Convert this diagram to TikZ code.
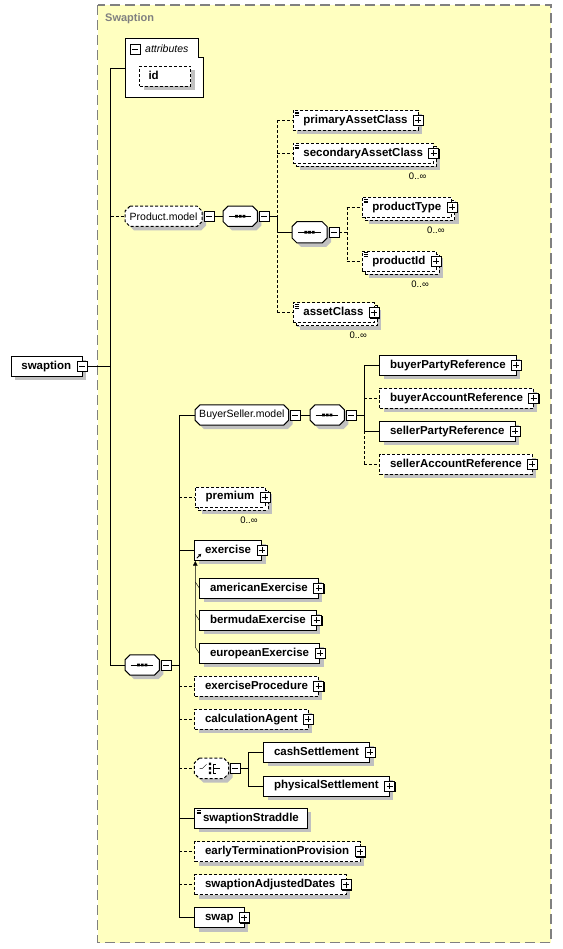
\documentclass[tikz,border=0pt]{standalone}
\usepackage{fontspec}
\setmainfont{Liberation Sans}
\usetikzlibrary{shadows,arrows.meta}

\definecolor{schemabg}{HTML}{FFFFC0}
\definecolor{shadowgray}{HTML}{C0C0C0}
\definecolor{framegray}{HTML}{808080}

\pgfdeclarelayer{bg}
\pgfsetlayers{bg,main}

\tikzset{
  elem/.style={draw, fill=white, anchor=west, font=\fontsize{11.5}{13}\selectfont\bfseries,
    inner xsep=10.5pt, inner ysep=0pt, minimum height=20pt, text height=9pt, text depth=2.5pt,
    drop shadow={fill=shadowgray, opacity=1, shadow xshift=4pt, shadow yshift=-4pt}},
  noplus/.style={inner xsep=8.5pt},
  opt/.style={dash pattern=on 3pt off 2pt},
  many/.style={drop shadow={fill=shadowgray, opacity=1, shadow xshift=7pt, shadow yshift=-7pt},
    copy shadow={fill=white, draw=black, shadow xshift=3pt, shadow yshift=-3pt}},
  doc/.style={path picture={
      \draw[solid, line width=0.8pt]
        ([xshift=2pt,yshift=-1.8pt]path picture bounding box.north west) -- ++(4.5pt,0pt)
        ([xshift=2pt,yshift=-3.6pt]path picture bounding box.north west) -- ++(4.5pt,0pt)
        ([xshift=2pt,yshift=-5.4pt]path picture bounding box.north west) -- ++(4.5pt,0pt);}},
  grp/.style={anchor=west, inner sep=0pt, minimum height=20pt, minimum width=34pt},
  model/.style={grp, font=\fontsize{10.5}{12}\selectfont},
  pmbox/.style={draw, fill=white, solid, minimum size=10pt, inner sep=0pt,
    drop shadow={fill=black, opacity=1, shadow xshift=1pt, shadow yshift=-1pt}},
  minusbox/.style={pmbox, path picture={
      \draw[solid] ([xshift=2pt]path picture bounding box.west) -- ([xshift=-2pt]path picture bounding box.east);}},
  plusbox/.style={pmbox, path picture={
      \draw[solid] ([xshift=2pt]path picture bounding box.west) -- ([xshift=-2pt]path picture bounding box.east)
        ([yshift=-2pt]path picture bounding box.north) -- ([yshift=2pt]path picture bounding box.south);}},
  mult/.style={font=\fontsize{9.5}{11}\selectfont, inner sep=0pt}
}

% octagon frame of a model group, drawn behind the node
\newcommand\grpframe[2][]{%
  \begin{pgfonlayer}{bg}
  \draw[draw=black, line width=1pt, fill=white, #1, drop shadow={fill=shadowgray, opacity=1, shadow xshift=4pt, shadow yshift=-4pt}]
    ([xshift=5pt]#2.north west) -- ([xshift=-5pt]#2.north east) -- ([yshift=-5pt]#2.north east)
    -- ([yshift=5pt]#2.south east) -- ([xshift=-5pt]#2.south east) -- ([xshift=5pt]#2.south west)
    -- ([yshift=5pt]#2.south west) -- ([yshift=-5pt]#2.north west) -- cycle;
  \end{pgfonlayer}}
% the sequence sign
\newcommand\seqicon[1]{%
  \begin{scope}[shift={(#1.center)}]
  \draw (-11.5,0) -- (11,0);
  \fill (-5.1,-1.4) rectangle (-2.3,1.4) (-1.4,-1.4) rectangle (1.4,1.4) (2.3,-1.4) rectangle (5.1,1.4);
  \end{scope}}

\begin{document}
\begin{tikzpicture}[x=1pt, y=-1pt, line width=1pt]
\useasboundingbox (0,0) rectangle (562,949);
\begin{pgfonlayer}{bg}
\draw[framegray, fill=schemabg, line width=1.3pt, dash pattern=on 10pt off 5pt] (97.5,5) rectangle (551,942.5);
\end{pgfonlayer}
\node[font=\fontsize{11}{13}\selectfont\bfseries, text=framegray, anchor=west, inner sep=0pt] (title) at (105,18.5) {Swaption};

% root element and attributes
\node[elem] (swaption) at (10.7,366) {swaption};
\node[minusbox] (swaption-m) at (swaption.east) {};

\draw[fill=white] (125,38) -- (198.3,38) -- (198.3,57.3) -- (202.7,57.3) -- (202.7,97) -- (125,97) -- cycle;
\node[minusbox] (attr-m) at (135,49) {};
\node[font=\fontsize{10.5}{12}\selectfont\itshape, anchor=west, inner sep=0pt] (attr) at (145,48.3) {attributes};
\node[elem, opt, text width=33pt, inner xsep=9pt] (id) at (139.3,76.3) {id};
\coordinate (attr-in) at (125,68);

% Product.model
\node[model, minimum width=76.7pt] (pmodel) at (125,216.3) {Product.model};
\grpframe[opt]{pmodel}
\node[minusbox, anchor=west] (pmodel-m) at ([xshift=1.5pt]pmodel.east) {};
\node[grp] (seq1) at (223,216.3) {};
\grpframe{seq1} \seqicon{seq1}
\node[minusbox, anchor=west] (seq1-m) at ([xshift=1.5pt]seq1.east) {};

\node[elem, opt, doc] (pac) at (292.7,120.3) {primaryAssetClass};
\node[elem, opt, doc, many] (sac) at (292.7,153.5) {secondaryAssetClass};
\node[grp, minimum width=34.7pt, minimum height=21pt] (seq2) at (292,232.3) {};
\grpframe{seq2} \seqicon{seq2}
\node[minusbox, anchor=west] (seq2-m) at ([xshift=1.5pt]seq2.east) {};
\node[elem, opt, doc, many] (pt) at (361.7,207.5) {productType};
\node[elem, opt, doc, many] (pid) at (361.7,261) {productId};
\node[elem, opt, doc, many] (ac) at (292.7,312.5) {assetClass};

% BuyerSeller.model
\node[model, minimum width=93.3pt] (bsmodel) at (195,415) {BuyerSeller.model};
\grpframe{bsmodel}
\node[minusbox, anchor=west] (bsmodel-m) at ([xshift=1.5pt]bsmodel.east) {};
\node[grp] (seq3) at (310,415) {};
\grpframe{seq3} \seqicon{seq3}
\node[minusbox, anchor=west] (seq3-m) at ([xshift=1.5pt]seq3.east) {};

\node[elem] (bpr) at (379.3,365.3) {buyerPartyReference};
\node[elem, opt] (bar) at (379.3,398.3) {buyerAccountReference};
\node[elem] (spr) at (379.3,431.3) {sellerPartyReference};
\node[elem, opt] (sar) at (379.3,464.3) {sellerAccountReference};

% main sequence
\node[grp] (seq0) at (125,665) {};
\grpframe{seq0} \seqicon{seq0}
\node[minusbox, anchor=west] (seq0-m) at ([xshift=1.5pt]seq0.east) {};

\node[elem, opt, many] (prem) at (195,496.7) {premium};
\node[elem] (ex) at (194.3,550) {exercise};
\node[elem] (am) at (199.3,588) {americanExercise};
\node[elem] (bm) at (199.3,620.3) {bermudaExercise};
\node[elem] (eu) at (199.3,653.3) {europeanExercise};
\node[elem, opt] (ep) at (194.3,686) {exerciseProcedure};
\node[elem, opt] (ca) at (194.3,719.3) {calculationAgent};
\node[grp] (choice) at (194.3,768.3) {};
\grpframe[opt]{choice}
\begin{scope}[shift={(choice.center)}]
\draw (-12,0) -- (-9,0) -- (-5,-4);
\draw (4,-4.5) -- (2,-4.5) -- (2,4.5) -- (4,4.5) (2,0) -- (8,0);
\fill (-2.7,-5.7) rectangle (-0.3,-3.3) (-2.7,-1.2) rectangle (-0.3,1.2) (-2.7,3.3) rectangle (-0.3,5.7);
\end{scope}
\node[minusbox, anchor=west] (choice-m) at ([xshift=1.5pt]choice.east) {};
\node[elem] (cs) at (263.3,752.3) {cashSettlement};
\node[elem] (ps) at (263.3,785.7) {physicalSettlement};
\node[elem, noplus, doc] (ss) at (194.3,818.3) {swaptionStraddle};
\node[elem, opt] (etp) at (194.3,851.5) {earlyTerminationProvision};
\node[elem, opt] (sad) at (194.3,884.5) {swaptionAdjustedDates};
\node[elem] (swap) at (194.3,917.5) {swap};

% expand boxes
\node[plusbox] (pac-p) at (pac.east) {};
\node[plusbox] (sac-p) at (sac.east) {};
\node[plusbox] (pt-p) at (pt.east) {};
\node[plusbox] (pid-p) at (pid.east) {};
\node[plusbox] (ac-p) at (ac.east) {};
\node[plusbox] (bpr-p) at (bpr.east) {};
\node[plusbox] (bar-p) at (bar.east) {};
\node[plusbox] (spr-p) at (spr.east) {};
\node[plusbox] (sar-p) at (sar.east) {};
\node[plusbox] (prem-p) at (prem.east) {};
\node[plusbox] (ex-p) at (ex.east) {};
\node[plusbox] (am-p) at (am.east) {};
\node[plusbox] (bm-p) at (bm.east) {};
\node[plusbox] (eu-p) at (eu.east) {};
\node[plusbox] (ep-p) at (ep.east) {};
\node[plusbox] (ca-p) at (ca.east) {};
\node[plusbox] (cs-p) at (cs.east) {};
\node[plusbox] (ps-p) at (ps.east) {};
\node[plusbox] (etp-p) at (etp.east) {};
\node[plusbox] (sad-p) at (sad.east) {};
\node[plusbox] (swap-p) at (swap.east) {};

% occurrences
\node[mult] (sac-n) at ([shift={(-16,13)}]sac.south east) {0..∞};
\node[mult] (pt-n) at ([shift={(-16,13)}]pt.south east) {0..∞};
\node[mult] (pid-n) at ([shift={(-16,13)}]pid.south east) {0..∞};
\node[mult] (ac-n) at ([shift={(-16,13)}]ac.south east) {0..∞};
\node[mult] (prem-n) at ([shift={(-16,13)}]prem.south east) {0..∞};

% connectors
\coordinate (bus0) at (110.5,0);
\coordinate (bus1) at (277.3,0);
\coordinate (bus2) at (346.7,0);
\coordinate (bus3) at (364,0);
\coordinate (bus4) at (179,0);
\coordinate (bus5) at (248.3,0);

\draw (swaption-m.east) -- (swaption-m.east -| bus0);
\draw (bus0 |- attr-in) -- (bus0 |- seq0.west) -- (seq0.west);
\draw (bus0 |- attr-in) -- (attr-in);
\draw[opt] (bus0 |- pmodel.west) -- (pmodel.west);

\draw (pmodel-m.east) -- (seq1.west);
\draw (seq1-m.east) -- (seq1-m.east -| bus1);
\draw[opt] (bus1 |- pac.west) -- (bus1 |- ac.west);
\draw (bus1 |- seq1.west) -- (bus1 |- seq2.west) -- (seq2.west);
\draw[opt] (bus1 |- pac.west) -- (pac.west);
\draw[opt] (bus1 |- sac.west) -- (sac.west);
\draw[opt] (bus1 |- ac.west) -- (ac.west);
\draw[opt] (seq2-m.east) -- (seq2-m.east -| bus2);
\draw[opt] (bus2 |- pt.west) -- (bus2 |- pid.west);
\draw[opt] (bus2 |- pt.west) -- (pt.west);
\draw[opt] (bus2 |- pid.west) -- (pid.west);

\draw (seq0-m.east) -- (seq0-m.east -| bus4);
\draw (bus4 |- bsmodel.west) -- (bus4 |- swap.west);
\draw (bus4 |- bsmodel.west) -- (bsmodel.west);
\draw (bsmodel-m.east) -- (seq3.west);
\draw (seq3-m.east) -- (seq3-m.east -| bus3);
\draw (bus3 |- bpr.west) -- (bus3 |- spr.west);
\draw[opt] (bus3 |- spr.west) -- (bus3 |- sar.west);
\draw (bus3 |- bpr.west) -- (bpr.west);
\draw[opt] (bus3 |- bar.west) -- (bar.west);
\draw (bus3 |- spr.west) -- (spr.west);
\draw[opt] (bus3 |- sar.west) -- (sar.west);

\draw[opt] (bus4 |- prem.west) -- (prem.west);
\draw (bus4 |- ex.west) -- (ex.west);
\draw[opt] (bus4 |- ep.west) -- (ep.west);
\draw[opt] (bus4 |- ca.west) -- (ca.west);
\draw[opt] (bus4 |- choice.west) -- (choice.west);
\draw (bus4 |- ss.west) -- (ss.west);
\draw[opt] (bus4 |- etp.west) -- (etp.west);
\draw[opt] (bus4 |- sad.west) -- (sad.west);
\draw (bus4 |- swap.west) -- (swap.west);

\draw (choice-m.east) -- (choice-m.east -| bus5);
\draw (bus5 |- cs.west) -- (bus5 |- ps.west);
\draw (bus5 |- cs.west) -- (cs.west);
\draw (bus5 |- ps.west) -- (ps.west);

% substitution group of exercise
\coordinate (subst) at (195.3,561);
\draw[-{Triangle[length=4.5pt,width=4.5pt]}] (eu.west) -- ++(-4,-6) -- (subst);
\draw (am.west) -- ++(-4,-6);
\draw (bm.west) -- ++(-4,-6);
\draw[-{Triangle[length=3pt,width=3pt]}, line width=0.8pt] ([shift={(2.5,-2)}]ex.south west) -- ++(4.5,-4.5);
\end{tikzpicture}
\end{document}
